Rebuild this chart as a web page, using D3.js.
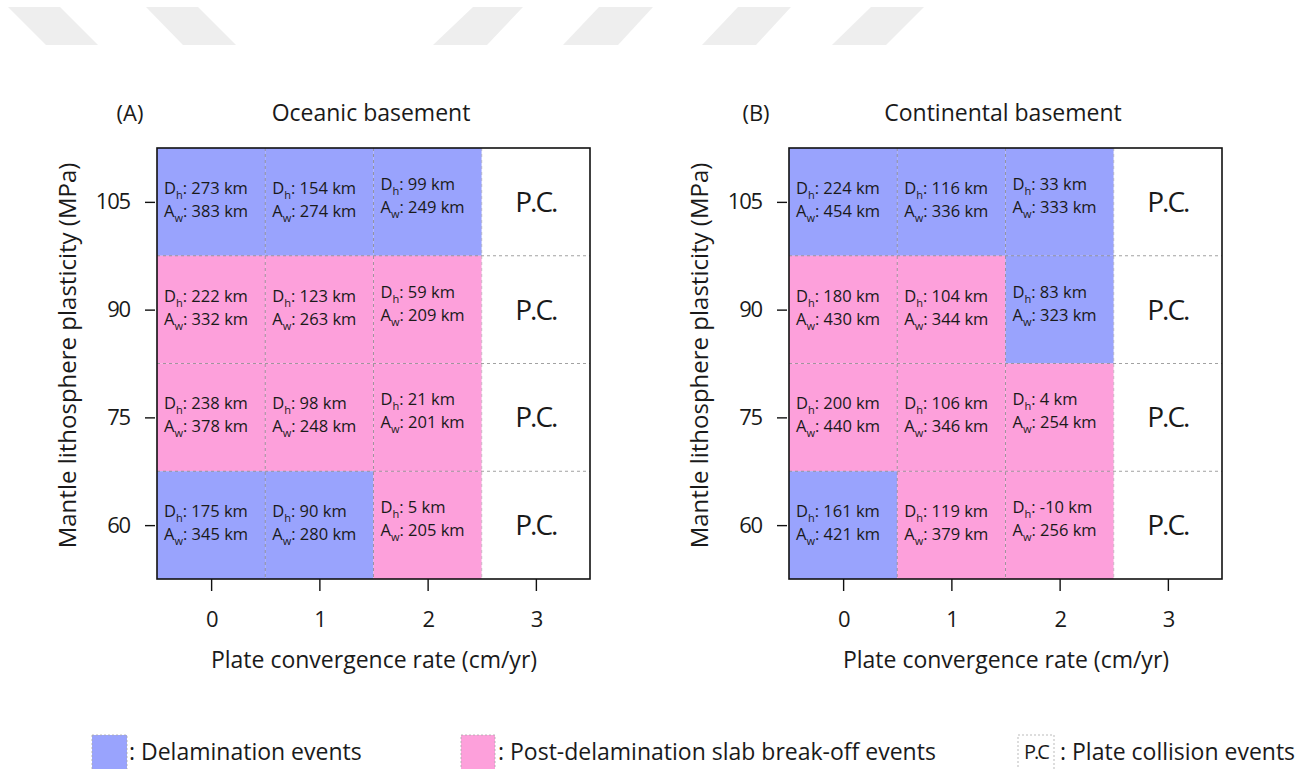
<!DOCTYPE html>
<html><head><meta charset="utf-8">
<script src="https://cdn.jsdelivr.net/npm/d3@7"></script>
<style>
html,body{margin:0;padding:0;background:#fff;}
svg{display:block;font-family:"Open Sans",sans-serif;}
</style></head>
<body>
<svg id="chart" width="1305" height="769"></svg>
<script>
// ---------- data ----------
const rates = [0, 1, 2, 3];                 // plate convergence rate (cm/yr)
const plasticity = [105, 90, 75, 60];       // mantle lithosphere plasticity (MPa), top to bottom
const rateTicks = ["0", "1", "2", "3"];
const plasticityTicks = ["105", "90", "75", "60"];

// Oceanic basement (rows follow plasticity, columns follow rates)
const oceanicDh = [
  [273, 154, 99, null],
  [222, 123, 59, null],
  [238, 98, 21, null],
  [175, 90, 5, null]
];
const oceanicAw = [
  [383, 274, 249, null],
  [332, 263, 209, null],
  [378, 248, 201, null],
  [345, 280, 205, null]
];
const oceanicType = [
  ["D", "D", "D", "PC"],
  ["S", "S", "S", "PC"],
  ["S", "S", "S", "PC"],
  ["D", "D", "S", "PC"]
];

// Continental basement
const continentalDh = [
  [224, 116, 33, null],
  [180, 104, 83, null],
  [200, 106, 4, null],
  [161, 119, -10, null]
];
const continentalAw = [
  [454, 336, 333, null],
  [430, 344, 323, null],
  [440, 346, 254, null],
  [421, 379, 256, null]
];
const continentalType = [
  ["D", "D", "D", "PC"],
  ["S", "S", "D", "PC"],
  ["S", "S", "S", "PC"],
  ["D", "S", "S", "PC"]
];

const panelLetters = ["(A)", "(B)"];
const panelTitles = ["Oceanic basement", "Continental basement"];
const xTitle = "Plate convergence rate (cm/yr)";
const yTitle = "Mantle lithosphere plasticity (MPa)";
const legendLabels = [": Delamination events", ": Post-delamination slab break-off events", ": Plate collision events"];

// ---------- styles ----------
const colors = { D: "#99a3fd", S: "#fda0db", PC: "#ffffff" };
const textColor = "#1a1a1a";
const svg = d3.select("#chart");

// faint watermark band at the top
const wm = [[8,60,98,46],[146,198,236,183],[473,523,487,433],[599,653,618,563],[738,791,756,702],[871,924,886,832]];
svg.append("g").selectAll("polygon").data(wm).join("polygon")
  .attr("points", d => `${d[0]},7 ${d[1]},7 ${d[2]},45 ${d[3]},45`)
  .attr("fill", "#eeeeee");

const panels = [
  { left: 157, letterDx: -27, dh: oceanicDh, aw: oceanicAw, type: oceanicType },
  { left: 789, letterDx: -33, dh: continentalDh, aw: continentalAw, type: continentalType }
];
const plotTop = 148, plotBottom = 579, pw = 433;

panels.forEach((p, pi) => {
  const x = d3.scaleLinear().domain([-0.5, 3.5]).range([p.left, p.left + pw]);
  const y = d3.scaleLinear().domain([52.5, 112.5]).range([plotBottom, plotTop]);
  const g = svg.append("g");

  const cells = [];
  plasticity.forEach((pl, ri) => rates.forEach((r, ci) => {
    cells.push({ r, pl, ri, ci, dh: p.dh[ri][ci], aw: p.aw[ri][ci], t: p.type[ri][ci] });
  }));

  // cell fills
  g.selectAll("rect.cell").data(cells).join("rect")
    .attr("x", d => x(d.r - 0.5)).attr("y", d => y(d.pl + 7.5))
    .attr("width", d => x(d.r + 0.5) - x(d.r - 0.5))
    .attr("height", d => y(d.pl - 7.5) - y(d.pl + 7.5))
    .attr("fill", d => colors[d.t]);

  // dashed internal grid
  const vLines = rates.slice(1).map(r => r - 0.5);
  const hLines = plasticity.slice(1).map(v => v + 7.5);
  g.selectAll("line.v").data(vLines).join("line")
    .attr("x1", d => x(d)).attr("x2", d => x(d)).attr("y1", plotTop).attr("y2", plotBottom)
    .attr("stroke", "#8a8a8a").attr("stroke-width", 0.8).attr("stroke-dasharray", "3,3")
    .attr("opacity", (d, i) => i === 2 ? 0.5 : 1);
  g.selectAll("line.h").data(hLines).join("line")
    .attr("x1", p.left).attr("x2", p.left + pw).attr("y1", d => y(d)).attr("y2", d => y(d))
    .attr("stroke", "#8a8a8a").attr("stroke-width", 0.8).attr("stroke-dasharray", "3,3");

  // cell labels
  const lab = g.selectAll("g.lab").data(cells.filter(d => d.t !== "PC")).join("g")
    .attr("transform", d => `translate(${x(d.r - 0.5) + 7},${y(d.pl) + (d.ci === 2 ? -4 : 0)})`);
  const l1 = lab.append("text").attr("y", -8).attr("font-size", 16.5).attr("fill", textColor);
  l1.append("tspan").text("D");
  l1.append("tspan").attr("font-size", 11).attr("dy", 5).text("h");
  l1.append("tspan").attr("dy", -5).text(d => `: ${d.dh} km`);
  const l2 = lab.append("text").attr("y", 15).attr("font-size", 16.5).attr("fill", textColor);
  l2.append("tspan").text("A");
  l2.append("tspan").attr("font-size", 11).attr("dy", 5).text("w");
  l2.append("tspan").attr("dy", -5).text(d => `: ${d.aw} km`);

  // P.C. labels
  g.selectAll("text.pc").data(cells.filter(d => d.t === "PC")).join("text")
    .attr("x", d => x(d.r)).attr("y", d => y(d.pl) + 10)
    .attr("text-anchor", "middle").attr("font-size", 28).attr("letter-spacing", -2)
    .attr("fill", textColor).text("P.C.");

  // frame
  g.append("rect").attr("x", p.left).attr("y", plotTop).attr("width", pw).attr("height", plotBottom - plotTop)
    .attr("fill", "none").attr("stroke", "#111").attr("stroke-width", 1.6);

  // axes
  const xa = d3.axisBottom(x).tickValues(rates).tickFormat((d, i) => rateTicks[i]).tickSize(12).tickPadding(20);
  const gx = svg.append("g").attr("transform", `translate(0,${plotBottom})`).call(xa);
  const ya = d3.axisLeft(y).tickValues(plasticity).tickFormat((d, i) => plasticityTicks[i]).tickSize(10).tickPadding(15);
  const gy = svg.append("g").attr("transform", `translate(${p.left - 2},0)`).call(ya);
  [gx, gy].forEach(a => {
    a.select(".domain").remove();
    a.selectAll("line").attr("stroke", "#111").attr("stroke-width", 1.4);
    a.selectAll("text").attr("font-size", 22).attr("letter-spacing", -1.2)
      .attr("font-family", "Open Sans, sans-serif").attr("fill", textColor);
  });

  // titles
  svg.append("text").attr("x", p.left + p.letterDx).attr("y", 121).attr("font-size", 22).attr("text-anchor", "middle")
    .attr("fill", textColor).text(panelLetters[pi]);
  svg.append("text").attr("x", p.left + 214).attr("y", 121).attr("font-size", 23).attr("text-anchor", "middle")
    .attr("fill", textColor).text(panelTitles[pi]);
  svg.append("text").attr("x", p.left + 217).attr("y", 668).attr("font-size", 23).attr("text-anchor", "middle")
    .attr("fill", textColor).text(xTitle);
  svg.append("text").attr("transform", `translate(${p.left - 81},${(plotTop + plotBottom) / 2 - 8}) rotate(-90)`)
    .attr("font-size", 24).attr("text-anchor", "middle").attr("fill", textColor).text(yTitle);
});

// ---------- legend ----------
const leg = svg.append("g");
const legItems = [
  { x: 92, fill: colors.D, w: 35, gap: 2, label: legendLabels[0] },
  { x: 461, fill: colors.S, w: 34, gap: 3, label: legendLabels[1] },
  { x: 1018, fill: "#fff", w: 36, gap: 6, label: legendLabels[2], box: "P.C" }
];
legItems.forEach(it => {
  leg.append("rect").attr("x", it.x).attr("y", 735).attr("width", it.w).attr("height", 36)
    .attr("fill", it.fill).attr("stroke", "#aaa").attr("stroke-width", 0.8).attr("stroke-dasharray", "2,2");
  if (it.box) {
    leg.append("text").attr("x", it.x + it.w / 2).attr("y", 759).attr("text-anchor", "middle")
      .attr("font-size", 20).attr("letter-spacing", -2).attr("fill", textColor).text(it.box);
  }
  leg.append("text").attr("x", it.x + it.w + it.gap).attr("y", 760).attr("font-size", 23)
    .attr("fill", textColor).text(it.label);
});
</script>
</body></html>
